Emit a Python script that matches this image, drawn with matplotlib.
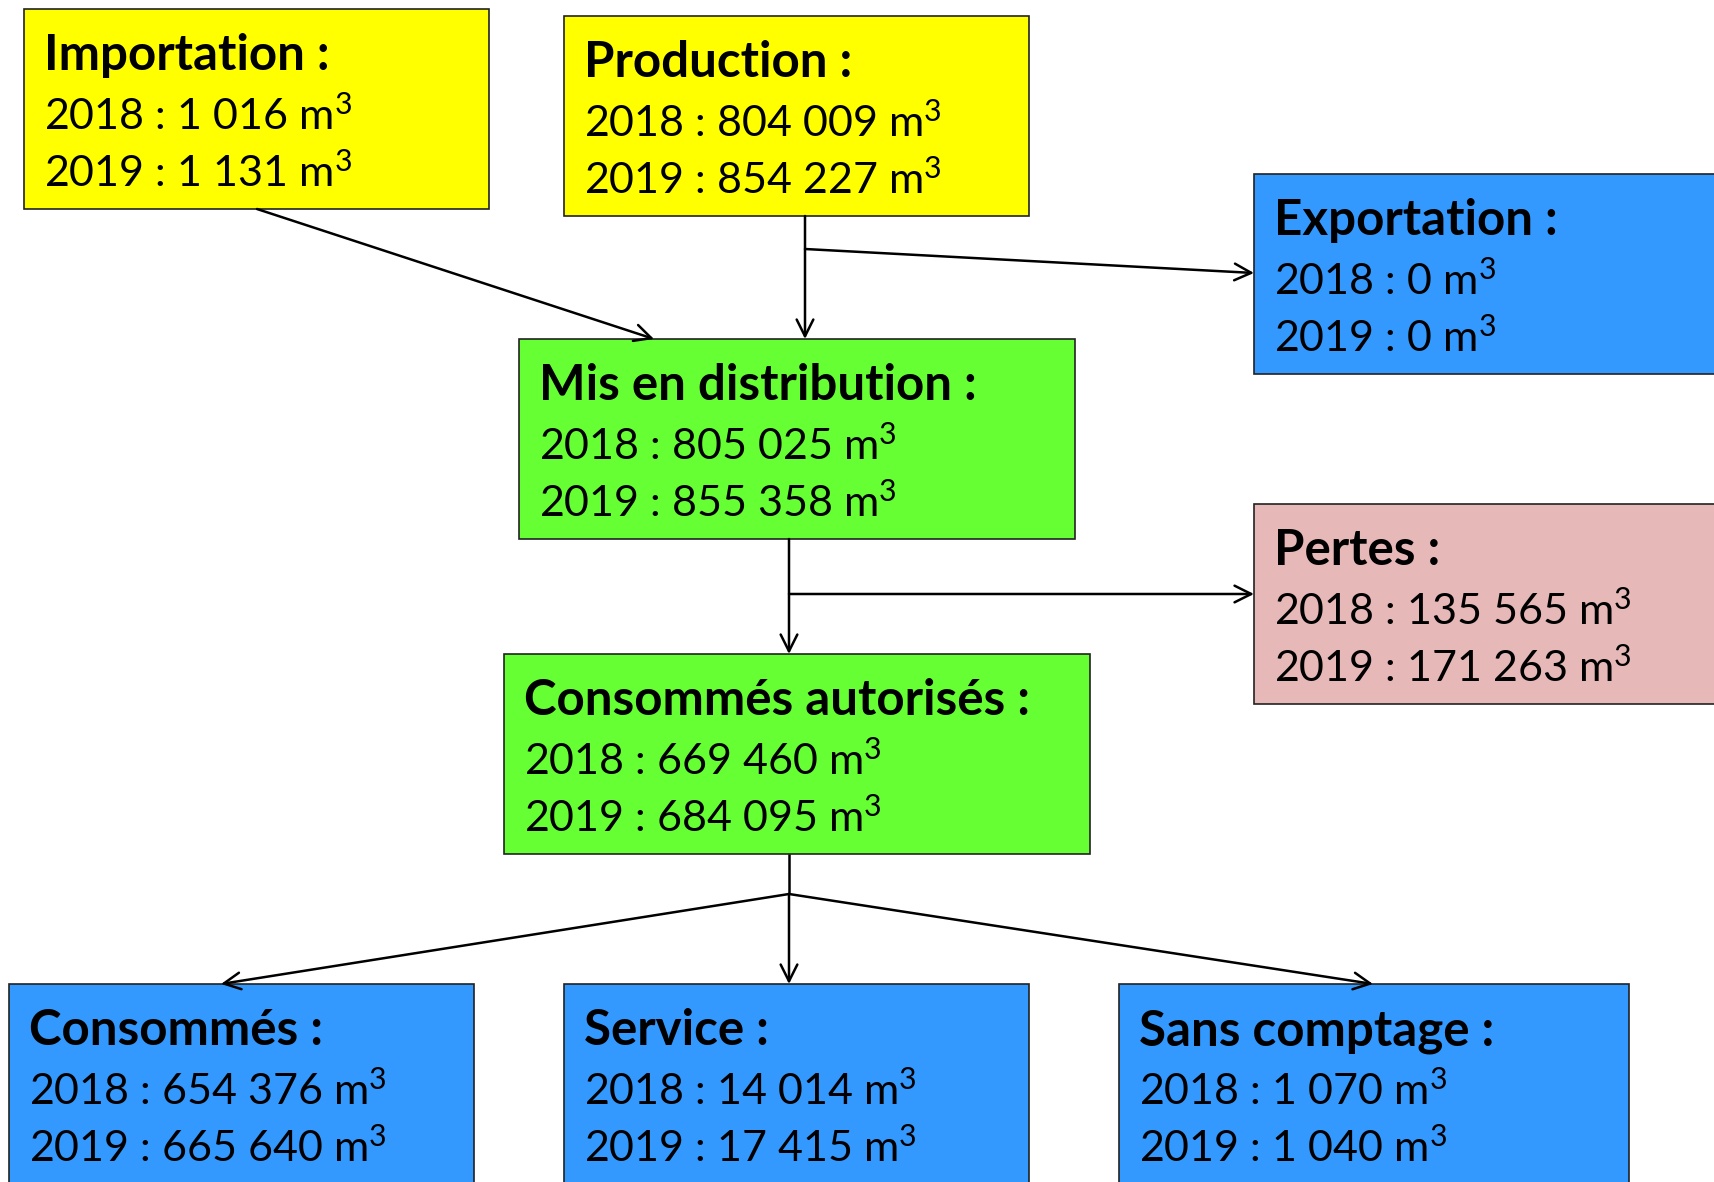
import matplotlib
matplotlib.use("Agg")
import matplotlib.pyplot as plt
from matplotlib.patches import Rectangle, FancyArrowPatch

# ---- data ----
labels = ["Importation", "Production", "Exportation", "Mis en distribution",
          "Pertes", "Consommés autorisés", "Consommés", "Service", "Sans comptage"]
vol_2018 = [1016, 804009, 0, 805025, 135565, 669460, 654376, 14014, 1070]
vol_2019 = [1131, 854227, 0, 855358, 171263, 684095, 665640, 17415, 1040]
years = ["2018", "2019"]
colors = ["#FFFF00", "#FFFF00", "#3399FF", "#66FF33", "#E6B8B7",
          "#66FF33", "#3399FF", "#3399FF", "#3399FF"]

# ---- layout (pixel coordinates: left, top, width, height) ----
W, H = 1714, 1182
boxes = [
    (24, 9, 465, 200),
    (564, 16, 465, 200),
    (1254, 174, 470, 200),
    (519, 339, 556, 200),
    (1254, 504, 470, 200),
    (504, 654, 586, 200),
    (9, 984, 465, 210),
    (564, 984, 465, 210),
    (1119, 984, 510, 210),
]

plt.rcParams['font.family'] = ['Lato', 'DejaVu Sans']
plt.rcParams['mathtext.fontset'] = 'custom'
plt.rcParams['mathtext.rm'] = 'Lato'
plt.rcParams['mathtext.it'] = 'Lato:italic'
plt.rcParams['mathtext.bf'] = 'Lato:bold'
plt.rcParams['mathtext.default'] = 'rm'

fig = plt.figure(figsize=(W / 100, H / 100), dpi=100)
ax = fig.add_axes([0, 0, 1, 1])
ax.set_xlim(0, W)
ax.set_ylim(H, 0)
ax.axis('off')


def fmt(v):
    return f"{v:,}".replace(",", " ")


for lab, v18, v19, col, (x, y, w, h) in zip(labels, vol_2018, vol_2019, colors, boxes):
    ax.add_patch(Rectangle((x, y), w, h, facecolor=col, edgecolor="#222222", lw=1.2, zorder=1))
    ax.text(x + 20, y + 61, lab + " :", fontsize=35.5, fontweight='bold', va='baseline', ha='left', zorder=2)
    ax.text(x + 20, y + 121, f"{years[0]} : {fmt(v18)} m$^{{3}}$", fontsize=31, va='baseline', ha='left', zorder=2)
    ax.text(x + 20, y + 178, f"{years[1]} : {fmt(v19)} m$^{{3}}$", fontsize=31, va='baseline', ha='left', zorder=2)


def line(p0, p1):
    ax.plot([p0[0], p1[0]], [p0[1], p1[1]], color='black', lw=1.8, solid_capstyle='butt', zorder=3)


def arrow(p0, p1):
    a = FancyArrowPatch(p0, p1, arrowstyle='->,head_length=12,head_width=6', color='black', lw=1.8,
                        shrinkA=0, shrinkB=0, zorder=3, mutation_scale=1)
    ax.add_patch(a)


# Importation -> Mis en distribution
arrow((257, 209), (654, 339))
# Production -> Mis en distribution
arrow((805, 216), (805, 339))
# Production -> Exportation
arrow((805, 249), (1254, 273))
# Mis en distribution -> Consommés autorisés
arrow((789, 539), (789, 654))
# Mis en distribution -> Pertes
arrow((789, 594), (1254, 594))
# Consommés autorisés -> split
line((789, 854), (789, 894))
arrow((789, 894), (221, 984))
arrow((789, 894), (789, 984))
arrow((789, 894), (1373, 984))

fig.savefig("out.png", dpi=100, facecolor='white')
